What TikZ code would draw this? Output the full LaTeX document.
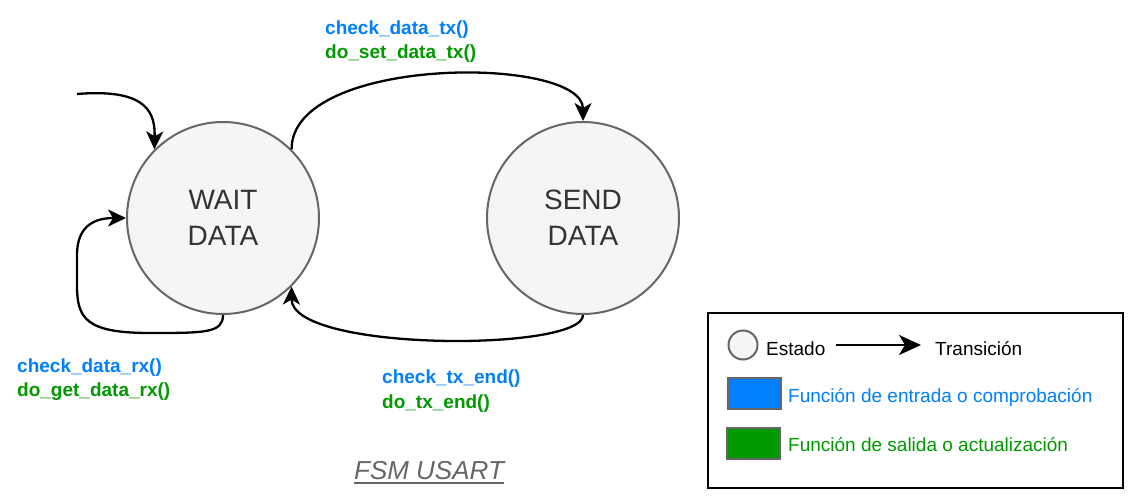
\documentclass[tikz,border=0pt]{standalone}
\usepackage{fontspec}
\setmainfont{Liberation Sans}
\usetikzlibrary{arrows.meta}
\definecolor{fnblue}{HTML}{007FFF}
\definecolor{fngreen}{HTML}{009900}
\definecolor{stfill}{HTML}{F5F5F5}
\definecolor{stline}{HTML}{666666}
\definecolor{sttext}{HTML}{333333}
\tikzset{
  statenode/.style={circle, draw=stline, fill=stfill, line width=2pt, minimum size=192pt, inner sep=0pt,
    text=sttext, align=center, font=\fontsize{28}{36}\selectfont},
  trans/.style={draw=black, line width=2.3pt, -{Stealth[length=18pt,width=17pt,inset=5pt]}},
  fnlabel/.style={anchor=west, inner sep=0pt, font=\fontsize{19}{23}\selectfont\bfseries},
  legtext/.style={anchor=west, inner sep=0pt, font=\fontsize{19}{23}\selectfont},
  legbox/.style={draw=stline, line width=2pt},
}
\begin{document}
\begin{tikzpicture}[x=1pt,y=-1pt]
\useasboundingbox (0,0) rectangle (1129,495);
\fill[white] (0,0) rectangle (1129,495);

% states
\node[statenode] (wait) at (223,218) {\raisebox{-2pt}{WAIT}\\\raisebox{-2pt}{DATA}};
\node[statenode] (send) at (583,218) {\raisebox{-2pt}{SEND}\\\raisebox{-2pt}{DATA}};

% initial transition
\coordinate (init) at (77,94);
\draw[trans] (init) .. controls (150,88) and (155,115) .. (wait.135);

% WAIT -> SEND
\draw[trans] (wait.45) .. controls (291,55) and (583,55) .. (send.north);

% SEND -> WAIT
\draw[trans] (send.south) .. controls (583,352) and (291,352) .. (wait.-45);

% WAIT self loop
\draw[trans] (wait.south) .. controls (223,333) and (205,333) .. (150,333)
  .. controls (85,333) and (77,318) .. (77,285) -- (77,255)
  .. controls (77,228) and (92,218) .. (wait.west);

% transition labels
\node[fnlabel, text=fnblue] (l1a) at (325,30) {check\_data\_tx()};
\node[fnlabel, text=fngreen] (l1b) at (325,54) {do\_set\_data\_tx()};
\node[fnlabel, text=fnblue] (l2a) at (17,368) {check\_data\_rx()};
\node[fnlabel, text=fngreen] (l2b) at (17,392) {do\_get\_data\_rx()};
\node[fnlabel, text=fnblue] (l3a) at (382,379) {check\_tx\_end()};
\node[fnlabel, text=fngreen] (l3b) at (382,404) {do\_tx\_end()};

% title
\node[anchor=base, inner sep=0pt, text=stline, font=\fontsize{26}{30}\selectfont\itshape] (title) at (429,479) {FSM USART};
\draw[stline, line width=1.5pt] ([yshift=-4pt]title.base west) -- ([yshift=-4pt]title.base east);

% legend
\draw[black, line width=2pt] (708,313) rectangle (1123,488);
\node[circle, draw=stline, fill=stfill, line width=2pt, minimum size=29pt, inner sep=0pt] (legstate) at (743,345) {};
\node[legtext] (legstatetxt) at (766,349) {Estado};
\coordinate (la1) at (836,345);
\coordinate (la2) at (921,345);
\draw[black, line width=2pt, -{Stealth[length=22pt,width=20pt,inset=6pt]}] (la1) -- (la2);
\node[legtext] (legtranstxt) at (935,349) {Transición};
\draw[legbox, fill=fnblue] (728,378) rectangle (781,409);
\node[legtext, text=fnblue] (legblue) at (788,397) {Función de entrada o comprobación};
\draw[legbox, fill=fngreen] (727,428) rectangle (780,459);
\node[legtext, text=fngreen] (leggreen) at (788,445) {Función de salida o actualización};
\end{tikzpicture}
\end{document}
